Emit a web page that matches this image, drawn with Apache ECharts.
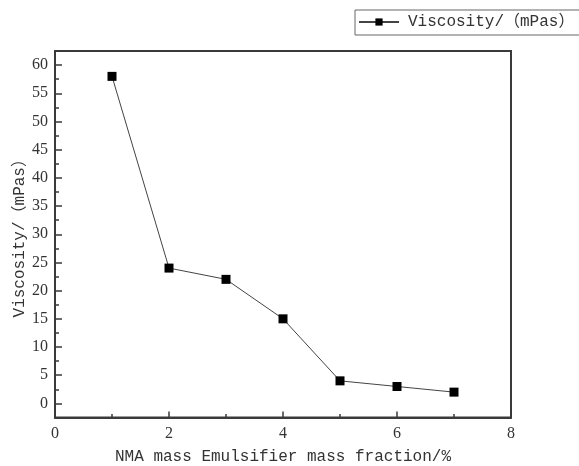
<!DOCTYPE html>
<html>
<head>
<meta charset="utf-8">
<script src="https://cdn.jsdelivr.net/npm/echarts@6/dist/echarts.min.js"></script>
<style>html,body{margin:0;padding:0;background:#fff;}#c{width:579px;height:466px;}</style>
</head>
<body>
<div id="c"></div>
<script>
var seriesName = 'Viscosity/（mPas）';
var xValues = [1, 2, 3, 4, 5, 6, 7];
var viscosity = [58, 24, 22, 15, 4, 3, 2];
var yMajorTicks = [0, 5, 10, 15, 20, 25, 30, 35, 40, 45, 50, 55, 60];
var yMinorTicks = [2.5, 7.5, 12.5, 17.5, 22.5, 27.5, 32.5, 37.5, 42.5, 47.5, 52.5, 57.5];
var xTitle = 'NMA mass Emulsifier mass fraction/%';
var yTitle = 'Viscosity/（mPas）';

var mono = "'Liberation Mono', 'Noto Sans CJK SC', monospace";
var serif = "'Liberation Serif', serif";
var axisColor = '#3a3a3a';

var chart = echarts.init(document.getElementById('c'));
chart.setOption({
  animation: false,
  backgroundColor: '#fff',
  grid: {left: 55, right: 68, top: 51, bottom: 48.5, containLabel: false, outerBoundsMode: 'none',
         show: true, borderColor: axisColor, borderWidth: 2, backgroundColor: 'transparent'},
  legend: {
    left: 355, top: 10,
    data: [seriesName],
    borderColor: '#666', borderWidth: 1,
    padding: [4, 10, 5, 3],
    itemWidth: 40, itemHeight: 9,
    itemGap: 0,
    textStyle: {fontFamily: mono, fontSize: 16, color: '#333', padding: [0, 0, 0, 4]}
  },
  xAxis: {
    type: 'value', min: 0, max: 8, interval: 2,
    name: xTitle, nameLocation: 'middle', nameGap: 31, nameMoveOverlap: false,
    nameTextStyle: {fontFamily: mono, fontSize: 16, color: '#333'},
    axisLine: {onZero: false, lineStyle: {color: axisColor, width: 2}},
    axisTick: {inside: true, length: 6, lineStyle: {color: axisColor, width: 1.5}},
    minorTick: {show: true, splitNumber: 2, length: 3.5, lineStyle: {color: axisColor, width: 1.5}},
    axisLabel: {fontFamily: serif, fontSize: 16, color: '#333', margin: 8},
    splitLine: {show: false}
  },
  yAxis: [{
    type: 'value', min: -2.5, max: 62.5,
    name: yTitle, nameLocation: 'middle', nameGap: 27, nameRotate: 90, nameMoveOverlap: false,
    nameTextStyle: {fontFamily: mono, fontSize: 16, color: '#333'},
    axisLine: {show: true, onZero: false, lineStyle: {color: axisColor, width: 2}},
    axisTick: {show: true, inside: true, length: 7, customValues: yMajorTicks, lineStyle: {color: axisColor, width: 1.5}},
    axisLabel: {fontFamily: serif, fontSize: 16, color: '#333', margin: 7, customValues: yMajorTicks},
    splitLine: {show: false}
  }, {
    type: 'value', min: -2.5, max: 62.5, position: 'left',
    axisLine: {show: false},
    axisTick: {show: true, inside: true, length: 4, customValues: yMinorTicks, lineStyle: {color: axisColor, width: 1.5}},
    axisLabel: {show: false},
    splitLine: {show: false}
  }],
  series: [{
    name: seriesName,
    type: 'line',
    yAxisIndex: 0,
    data: xValues.map(function (x, i) { return [x, viscosity[i]]; }),
    symbol: 'rect', symbolSize: 9,
    itemStyle: {color: '#000'},
    lineStyle: {color: '#444', width: 1}
  }]
});
</script>
</body>
</html>
